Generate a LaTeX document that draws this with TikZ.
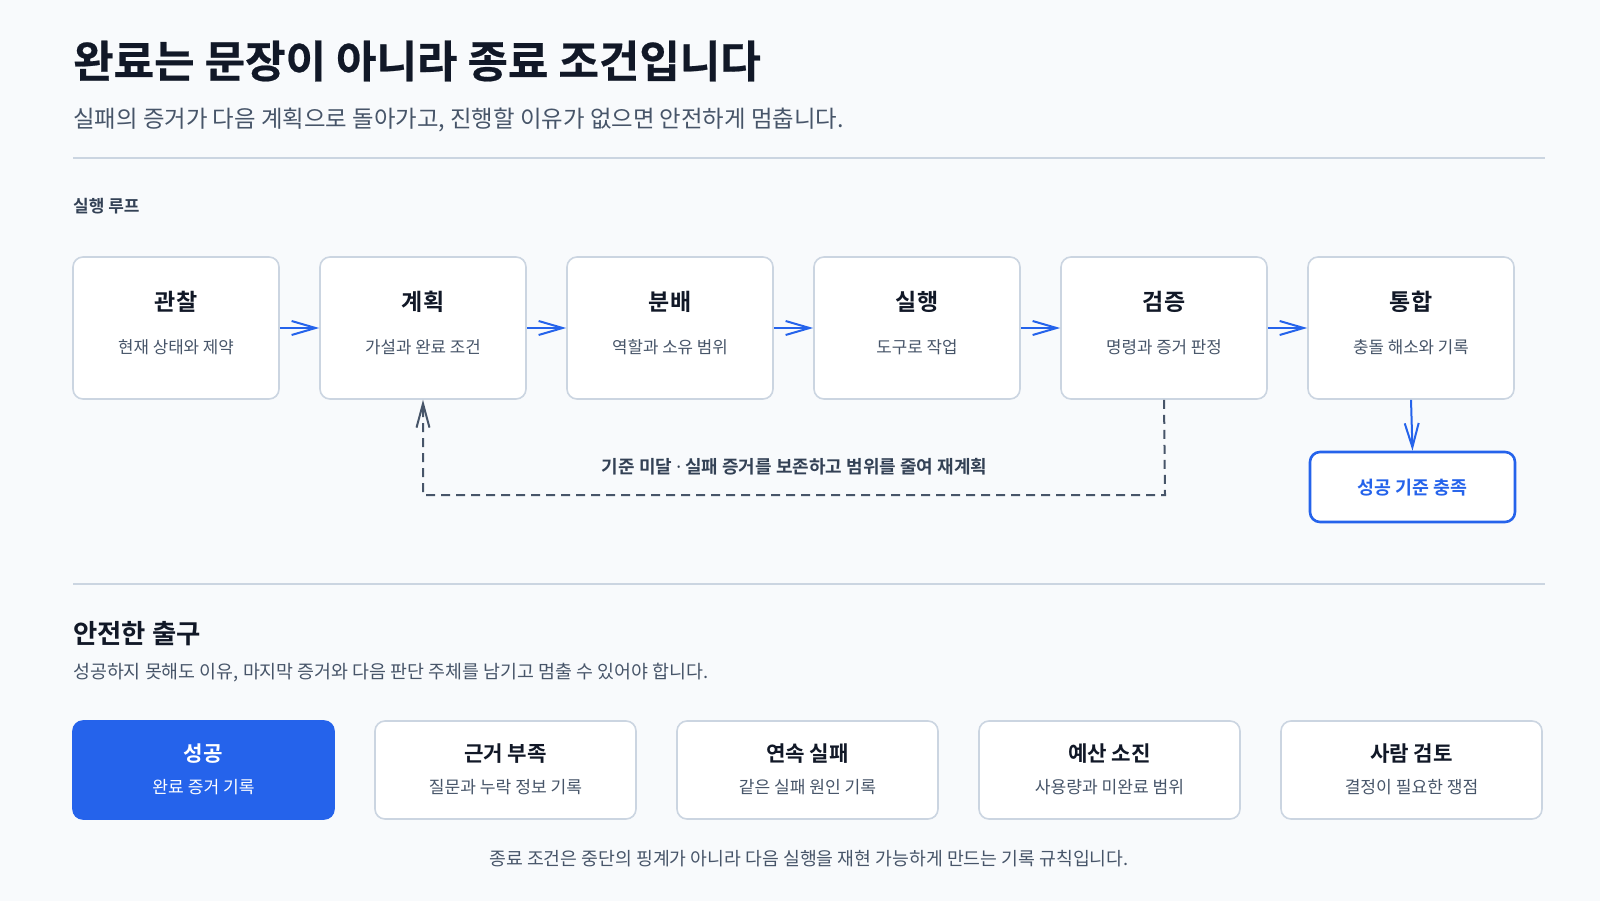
\documentclass[tikz,border=0pt]{standalone}
\usepackage{fontspec}
\setmainfont{Noto Sans CJK KR}[BoldFont={* Bold}]
\newfontfamily\heavyfont{Noto Sans CJK KR Bold}[FakeBold=0.5]
\newfontfamily\latinfont{Noto Sans}
\usetikzlibrary{arrows.meta}
\definecolor{bg}{HTML}{F8FAFC}
\definecolor{ink}{HTML}{111827}
\definecolor{muted}{HTML}{475569}
\definecolor{slate}{HTML}{334155}
\definecolor{rule}{HTML}{CBD5E1}
\definecolor{accent}{HTML}{2563EB}
\newcommand{\fs}[1]{\fontsize{#1}{#1}\selectfont}
\begin{document}
\begin{tikzpicture}[x=1pt,y=-1pt,
  card/.style={draw=rule, line width=1.6pt, fill=white, rounded corners=10pt,
    minimum width=206pt, minimum height=142pt, inner sep=0pt},
  exitcard/.style={draw=rule, line width=1.6pt, fill=white, rounded corners=10pt,
    minimum width=261pt, minimum height=98pt, inner sep=0pt},
  goalcard/.style={draw=accent, line width=2.6pt, fill=white, rounded corners=10pt,
    minimum width=205pt, minimum height=70pt, inner sep=0pt},
  cardtitle/.style={font=\bfseries\fs{23}, text=ink, inner sep=0pt},
  cardsub/.style={font=\fs{16.8}, text=muted, inner sep=0pt},
  exittitle/.style={font=\bfseries\fs{21.2}, text=ink, inner sep=0pt},
  exitsub/.style={font=\fs{17.1}, text=muted, inner sep=0pt},
  flow/.style={draw=accent, line width=2pt, -{Straight Barb[length=24pt,width=14pt,line width=2pt]}},
  back/.style={draw=muted, line width=2pt, dash pattern=on 9pt off 6pt,
    -{Straight Barb[length=24pt,width=13pt,line width=2pt]}},
  sep/.style={draw=rule, line width=2pt}
]
\useasboundingbox (0,0) rectangle (1600,901);
\fill[bg] (0,0) rectangle (1600,901);

% header
\node[anchor=west, inner sep=0pt, font=\heavyfont\fs{44}, text=ink] (title) at (73,61) {완료는 문장이 아니라 종료 조건입니다};
\node[anchor=west, inner sep=0pt, font=\fs{23.4}, text=muted] (subtitle) at (73,119.5) {실패의 증거가 다음 계획으로 돌아가고, 진행할 이유가 없으면 안전하게 멈춥니다.};
\coordinate (s1a) at (73,158); \coordinate (s1b) at (1545,158);
\draw[sep] (s1a) -- (s1b);

\node[anchor=west, inner sep=0pt, font=\bfseries\fs{17}, text=slate] (looplabel) at (73,206) {실행 루프};

% loop cards
\foreach \i/\t/\s in {1/관찰/현재 상태와 제약, 2/계획/가설과 완료 조건, 3/분배/역할과 소유 범위, 4/실행/도구로 작업, 5/검증/명령과 증거 판정, 6/통합/충돌 해소와 기록}{
  \pgfmathsetmacro{\cx}{176+247*(\i-1)}
  \node[card] (b\i) at (\cx,328) {};
  \node[cardtitle] (b\i t) at (\cx,302) {\t};
  \node[cardsub] (b\i s) at (\cx,347) {\s};
}
\foreach \a/\b in {1/2,2/3,3/4,4/5,5/6}{
  \draw[flow] (b\a.east) -- (b\b.west);
}

\node[goalcard] (goal) at (1412.5,487) {};
\node[inner sep=0pt, font=\bfseries\fs{18.4}, text=accent] (goalt) at (1412.5,488) {성공 기준 충족};
\draw[flow] (b6.south) -- (goal.north);

\coordinate (turn) at (1165,495);
\draw[back] (b5.south) -- (turn) -| (b2.south);
\node[inner sep=0pt, font=\bfseries\fs{18}, text=slate] (backlabel) at (794.5,467) {기준 미달 {\latinfont\bfseries ·} 실패 증거를 보존하고 범위를 줄여 재계획};

% second section
\coordinate (s2a) at (73,584); \coordinate (s2b) at (1545,584);
\draw[sep] (s2a) -- (s2b);
\node[anchor=west, inner sep=0pt, font=\bfseries\fs{26.4}, text=ink] (exithead) at (73,634) {안전한 출구};
\node[anchor=west, inner sep=0pt, font=\fs{18.4}, text=muted] (exitsubhead) at (73,672.5) {성공하지 못해도 이유, 마지막 증거와 다음 판단 주체를 남기고 멈출 수 있어야 합니다.};

\node[exitcard, draw=accent, fill=accent] (e1) at (203.5,770) {};
\node[exittitle, text=white] (e1t) at (203.5,754) {성공};
\node[exitsub, text=white] (e1s) at (203.5,787) {완료 증거 기록};
\foreach \i/\t/\s in {2/근거 부족/질문과 누락 정보 기록, 3/연속 실패/같은 실패 원인 기록, 4/예산 소진/사용량과 미완료 범위, 5/사람 검토/결정이 필요한 쟁점}{
  \pgfmathsetmacro{\cx}{203.5+302*(\i-1)}
  \node[exitcard] (e\i) at (\cx,770) {};
  \node[exittitle] (e\i t) at (\cx,754) {\t};
  \node[exitsub] (e\i s) at (\cx,787) {\s};
}

\node[inner sep=0pt, font=\fs{18.3}, text=muted] (footer) at (809,859) {종료 조건은 중단의 핑계가 아니라 다음 실행을 재현 가능하게 만드는 기록 규칙입니다.};
\end{tikzpicture}
\end{document}
